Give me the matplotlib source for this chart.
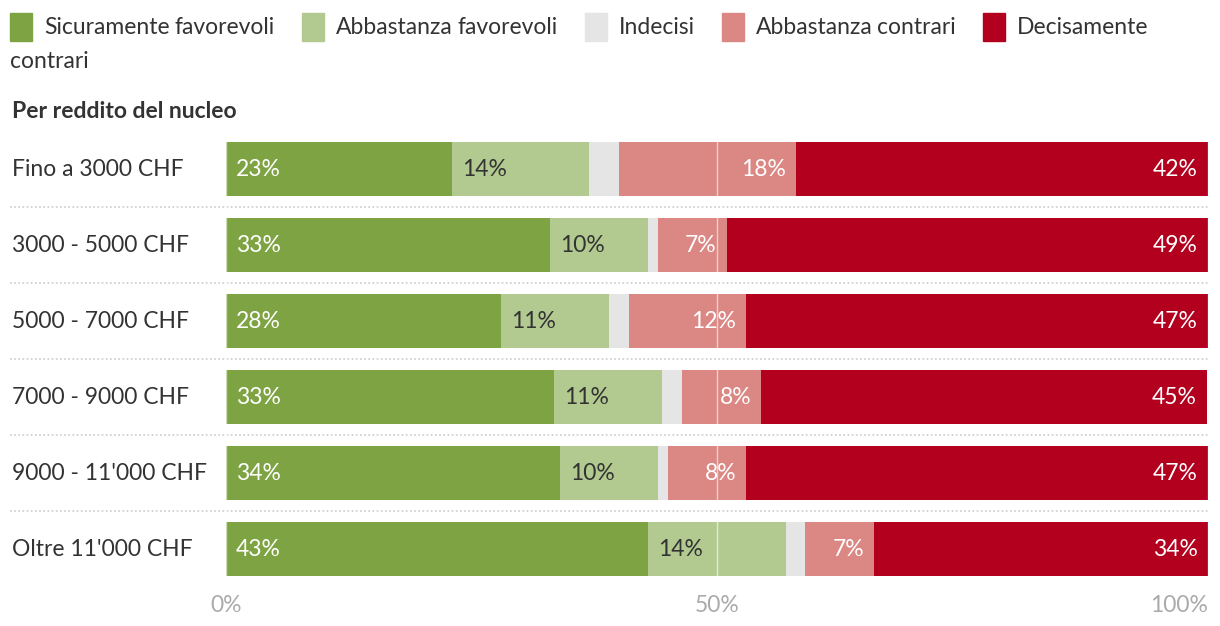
import matplotlib
matplotlib.use("Agg")
import matplotlib.pyplot as plt
import matplotlib.transforms as mtransforms
from matplotlib.patches import Rectangle

plt.rcParams['font.family'] = ['Lato', 'DejaVu Sans']

categories = ["Fino a 3000 CHF", "3000 - 5000 CHF", "5000 - 7000 CHF",
              "7000 - 9000 CHF", "9000 - 11'000 CHF", "Oltre 11'000 CHF"]
series_names = ["Sicuramente favorevoli", "Abbastanza favorevoli", "Indecisi",
                "Abbastanza contrari", "Decisamente contrari"]
sicuramente = [23, 33, 28, 33.4, 34, 43]
abbastanza_fav = [14, 10, 11, 11, 10, 14]
indecisi = [3, 1, 2, 2, 1, 2]
abbastanza_con = [18, 7, 12, 8.1, 8, 7]
decisamente = [42, 49, 47, 45.4, 47, 34]
xticks = [0, 50, 100]
xtick_labels = ["0%", "50%", "100%"]
title = "Per reddito del nucleo"

colors = ["#7ea343", "#b2ca90", "#e5e5e5", "#db8783", "#b2001e"]
label_colors = ["white", "#333333", None, "white", "white"]
label_align = ["left", "left", None, "right", "right"]

FS = 16.5
W, H = 1220, 626
fig = plt.figure(figsize=(W / 100, H / 100), dpi=100)
ax = fig.add_axes([226 / W, 1 - 587 / H, (1208 - 226) / W, (587 - 131) / H])

series = [sicuramente, abbastanza_fav, indecisi, abbastanza_con, decisamente]
n = len(categories)
ys = list(range(n))
left = [0.0] * n
for si, vals in enumerate(series):
    ax.barh(ys, vals, left=left, height=54 / 76, color=colors[si], zorder=2)
    for i, v in enumerate(vals):
        if label_colors[si] is not None:
            if label_align[si] == "left":
                x = left[i]
                off = 10
            else:
                x = left[i] + v
                off = -10
            ax.annotate(f"{round(v)}%", (x, i), xytext=(off, 0), textcoords="offset pixels",
                        ha=label_align[si], va="center", color=label_colors[si],
                        fontsize=FS, zorder=4)
    left = [l + v for l, v in zip(left, vals)]

ax.set_xlim(0, 100)
ax.set_ylim(n - 0.5, -0.5)
for s in ax.spines.values():
    s.set_visible(False)
ax.set_yticks([])
ax.set_xticks(xticks)
ax.set_xticklabels(xtick_labels, color="#aaaaaa", fontsize=FS)
ax.get_xticklabels()[-1].set_ha("right")
ax.tick_params(axis="x", length=0, pad=6)
for xt in xticks:
    ax.axvline(xt, color="white", lw=1, alpha=0.6, zorder=3)

# category labels
trans = mtransforms.blended_transform_factory(fig.transFigure, ax.transData)
for i, c in enumerate(categories):
    ax.text(12 / W, i, c, transform=trans, va="center", ha="left",
            color="#333333", fontsize=FS, clip_on=False)

# dotted separators
for i in range(n - 1):
    ax.plot([10 / W, 1208 / W], [i + 0.5, i + 0.5], transform=trans, color="#cccccc",
            lw=1.2, linestyle=(0, (1, 1.5)), clip_on=False, zorder=1)

# title
fig.text(12 / W, 1 - 112 / H, title, fontsize=FS, fontweight="bold", color="#333333",
         va="center", ha="left")

# legend with wrapping
fig.canvas.draw()
renderer = fig.canvas.get_renderer()
x = 10
y = 27
line_h = 34
maxx = 1210
box = 22
for ci, name in enumerate(series_names):
    if x + box > maxx:
        x = 10
        y += line_h
    fig.add_artist(Rectangle((x / W, 1 - (y + 14) / H), box / W, 28 / H,
                             transform=fig.transFigure, color=colors[ci]))
    x += box + 12
    words = name.split(" ")
    for wi, w in enumerate(words):
        t = fig.text(x / W, 1 - y / H, w, fontsize=FS, color="#333333", va="center", ha="left")
        bb = t.get_window_extent(renderer)
        if x + bb.width > maxx:
            x = 10
            y += line_h
            t.set_position((x / W, 1 - y / H))
        x += bb.width + 5
    x += 22

fig.savefig("out.png", dpi=100)
